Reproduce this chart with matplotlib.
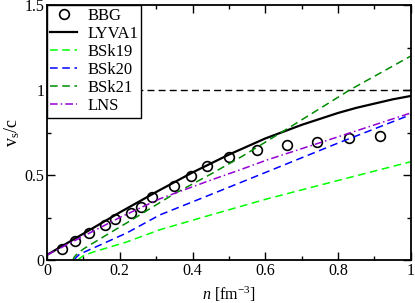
import numpy as np
import matplotlib
matplotlib.use("Agg")
import matplotlib.pyplot as plt
from matplotlib.ticker import MultipleLocator, FuncFormatter

# BBG points
bbg_n = [0.041, 0.077, 0.115, 0.159, 0.187, 0.231, 0.258, 0.288, 0.349, 0.396,
         0.440, 0.500, 0.577, 0.659, 0.742, 0.830, 0.915]
bbg_v = [0.065, 0.112, 0.159, 0.206, 0.241, 0.276, 0.312, 0.371, 0.435, 0.494,
         0.553, 0.606, 0.647, 0.676, 0.694, 0.718, 0.729]

lyva_n = [0.0, 0.1, 0.2, 0.3, 0.4, 0.5, 0.6, 0.7, 0.75, 0.8, 0.85, 0.9, 0.95, 1.0]
lyva_v = [0.03, 0.155, 0.28, 0.40, 0.515, 0.62, 0.715, 0.795, 0.83, 0.865, 0.895,
          0.92, 0.945, 0.965]

bsk19_n = [0.085, 0.09, 0.1, 0.127, 0.219, 0.31, 0.45, 0.604, 0.8, 1.0]
bsk19_v = [0.0, 0.01, 0.025, 0.047, 0.106, 0.178, 0.265, 0.359, 0.468, 0.578]

bsk20_n = [0.075, 0.08, 0.09, 0.127, 0.219, 0.31, 0.45, 0.604, 0.8, 1.0]
bsk20_v = [0.0, 0.015, 0.035, 0.07, 0.159, 0.265, 0.385, 0.518, 0.688, 0.855]

bsk21_n = [0.071, 0.075, 0.08, 0.1, 0.154, 0.236, 0.346, 0.45, 0.538, 0.668, 0.832, 1.0]
bsk21_v = [0.0, 0.018, 0.03, 0.065, 0.135, 0.24, 0.385, 0.505, 0.612, 0.782, 1.0, 1.2]

lns_n = [0.0, 0.1, 0.2, 0.31, 0.45, 0.53, 0.604, 0.832, 1.0]
lns_v = [0.03, 0.14, 0.25, 0.36, 0.47, 0.53, 0.588, 0.747, 0.865]

plt.rcParams["font.family"] = ["Liberation Serif", "DejaVu Serif"]
plt.rcParams["mathtext.fontset"] = "custom"
plt.rcParams["mathtext.it"] = "Liberation Serif:italic"
plt.rcParams["mathtext.rm"] = "Liberation Serif"

fig = plt.figure(figsize=(4.15, 3.03), dpi=100)
ax = fig.add_axes([0.1133, 0.1419, 0.8767, 0.8416])

ax.axhline(1.0, color="black", lw=1.0, ls=(0, (5, 3)))
ax.plot(bbg_n, bbg_v, "o", ms=7, mfc="none", mec="black", mew=1.2, label="BBG")
ax.plot(lyva_n, lyva_v, color="black", lw=1.6, label="LYVA1")
ax.plot(bsk19_n, bsk19_v, color="#00ff00", lw=1.1, ls=(0, (5, 3)), label="BSk19")
ax.plot(bsk20_n, bsk20_v, color="#0000ff", lw=1.1, ls=(0, (5, 3)), label="BSk20")
ax.plot(bsk21_n, bsk21_v, color="#008b00", lw=1.1, ls=(0, (5, 3)), label="BSk21")
ax.plot(lns_n, lns_v, color="#9400d3", lw=1.1, ls=(0, (5, 2, 1, 2)), label="LNS")

ax.set_xlim(0, 1)
ax.set_ylim(0, 1.5)
ax.xaxis.set_major_locator(MultipleLocator(0.2))
ax.xaxis.set_minor_locator(MultipleLocator(0.1))
ax.yaxis.set_major_locator(MultipleLocator(0.5))
ax.yaxis.set_minor_locator(MultipleLocator(0.25))
fmt = FuncFormatter(lambda v, p: f"{v:g}")
ax.xaxis.set_major_formatter(fmt)
ax.yaxis.set_major_formatter(fmt)
ax.tick_params(which="both", direction="in", top=True, right=True, labelsize=11.5, width=1.0)
ax.tick_params(which="major", length=6, pad=2)
ax.tick_params(which="minor", length=3)
for s in ax.spines.values():
    s.set_linewidth(1.3)

ax.set_xlabel(r"$n$ [fm$^{-3}$]", fontsize=11.5, labelpad=4)
ax.set_ylabel(r"v$_{\rm s}$/c", fontsize=13, labelpad=2)

leg = ax.legend(loc="upper left", borderaxespad=0, fontsize=12, handlelength=1.6,
                handletextpad=0.6, labelspacing=0.12, borderpad=0.2, fancybox=False,
                framealpha=1, edgecolor="black")
leg.get_frame().set_linewidth(1.0)

fig.savefig("out.png", dpi=100)
